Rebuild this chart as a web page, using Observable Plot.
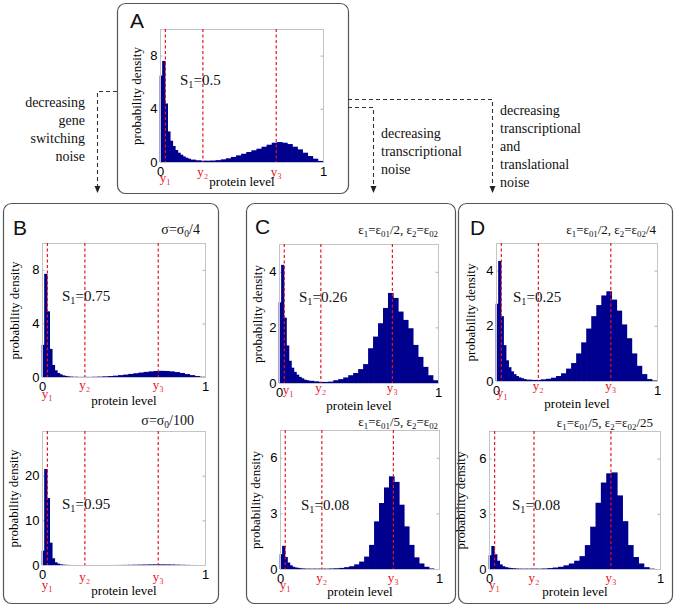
<!DOCTYPE html>
<html><head><meta charset="utf-8">
<script src="https://cdn.jsdelivr.net/npm/d3@7"></script>
<script src="https://cdn.jsdelivr.net/npm/@observablehq/plot@0.6"></script>
<style>
html,body{margin:0;padding:0;background:#fff;}
#fig{position:relative;width:675px;height:606px;overflow:hidden;background:#fff;}
#fig .panel{position:absolute;}
#fig svg.overlay{position:absolute;left:0;top:0;pointer-events:none;}
</style></head><body><div id="fig"></div>
<script>
// ---- data ----
const binEdges = [0, 0.015625, 0.03125, 0.046875, 0.0625, 0.078125, 0.09375, 0.109375, 0.125, 0.140625, 0.15625, 0.171875, 0.1875,
  0.21875, 0.25, 0.28125, 0.3125, 0.34375, 0.375, 0.40625, 0.4375, 0.46875, 0.5, 0.53125, 0.5625, 0.59375, 0.625, 0.65625,
  0.6875, 0.71875, 0.75, 0.78125, 0.8125, 0.84375, 0.875, 0.90625, 0.9375, 0.96875, 1];
const histA  = [6.5, 7.6, 4.4, 2.3, 1.6, 1.2, 0.9, 0.7, 0.55, 0.42, 0.32, 0.25, 0.18, 0.13, 0.1, 0.1, 0.11, 0.14,
  0.2, 0.28, 0.38, 0.5, 0.62, 0.75, 0.88, 1.0, 1.15, 1.3, 1.45, 1.5, 1.45, 1.35, 1.15, 0.95, 0.7, 0.45, 0.25, 0.08];
const histB1 = [2.4, 7.7, 4.9, 2.1, 0.9, 0.5, 0.3, 0.2, 0.12, 0.08, 0.05, 0.03, 0.02, 0.01, 0.01, 0.01, 0.02, 0.03,
  0.05, 0.07, 0.1, 0.14, 0.18, 0.23, 0.28, 0.33, 0.38, 0.42, 0.45, 0.46, 0.45, 0.42, 0.37, 0.3, 0.22, 0.14, 0.07, 0.02];
const histB2 = [3.2, 21.5, 15, 5, 1.5, 0.6, 0.3, 0.15, 0.08, 0.04, 0.02, 0.01, 0, 0, 0, 0, 0, 0,
  0, 0, 0.01, 0.02, 0.03, 0.05, 0.07, 0.09, 0.11, 0.13, 0.14, 0.14, 0.13, 0.11, 0.08, 0.05, 0.03, 0.01, 0, 0];
const histC1 = [2.9, 4.25, 2.35, 1.35, 0.8, 0.55, 0.4, 0.3, 0.22, 0.17, 0.12, 0.1, 0.08, 0.06, 0.04, 0.04, 0.05, 0.1,
  0.14, 0.2, 0.28, 0.36, 0.5, 0.68, 1.25, 1.67, 2.15, 2.7, 3.24, 3.06, 2.57, 2.27, 1.97, 1.37, 0.94, 0.58, 0.28, 0.1];
const histC2 = [0.8, 1.25, 0.65, 0.35, 0.2, 0.12, 0.08, 0.06, 0.04, 0.03, 0.02, 0.02, 0.02, 0.02, 0.02, 0.02, 0.03, 0.04,
  0.06, 0.1, 0.15, 0.25, 0.4, 0.67, 1.3, 2.57, 3.56, 4.4, 5.0, 4.7, 3.47, 2.3, 1.3, 0.63, 0.3, 0.12, 0.03, 0.0];
const histD1 = [2.8, 4.35, 2.35, 1.3, 0.75, 0.5, 0.35, 0.25, 0.18, 0.13, 0.1, 0.07, 0.05, 0.04, 0.04, 0.06, 0.08, 0.12,
  0.18, 0.28, 0.45, 0.65, 1.0, 1.4, 1.9, 2.35, 2.75, 3.1, 3.25, 2.95, 2.55, 2.05, 1.55, 1.0, 0.55, 0.25, 0.07, 0.02];
const histD2 = [0.75, 1.25, 0.8, 0.45, 0.25, 0.15, 0.1, 0.07, 0.05, 0.04, 0.03, 0.02, 0.02, 0.02, 0.02, 0.02, 0.03, 0.05,
  0.08, 0.12, 0.2, 0.3, 0.45, 0.7, 1.3, 2.3, 3.6, 4.7, 5.2, 5.25, 4.0, 2.6, 1.3, 0.65, 0.3, 0.1, 0.02, 0.0];
const markerPositions = [0.03, 0.26, 0.71];
const markerLabels = ["y\u2081", "y\u2082", "y\u2083"];
const xTicks = [0, 1];
const yTicks8 = [0, 4, 8];
const yTicks20 = [0, 10, 20];
const yTicks4 = [0, 2, 4];
const yTicks6 = [0, 3, 6];
const xLabel = "protein level";
const yLabel = "probability density";

// ---- layout ----
const panels = [
  {hist: histA,  left:160, right:323, top:29,  bottom:162, ymax:10,  yticks:yTicks8,  xl:23, ylDx:24, b1:19, b2:13, d1:0},
  {hist: histB1, left:42,  right:205, top:243, bottom:377, ymax:10,  yticks:yTicks8,  xl:27, ylDx:28, b1:20, b2:11, d1:0},
  {hist: histB2, left:42,  right:205, top:431, bottom:565, ymax:30,  yticks:yTicks20, xl:29, ylDx:29, b1:23, b2:15, d1:0},
  {hist: histC1, left:279, right:438, top:244, bottom:383, ymax:5,   yticks:yTicks4,  xl:26, ylDx:22, b1:10, b2:8,  d1:4},
  {hist: histC2, left:280, right:439, top:430, bottom:569, ymax:7.5, yticks:yTicks6,  xl:26, ylDx:25, b1:19, b2:12, d1:0},
  {hist: histD1, left:496, right:657, top:243, bottom:381, ymax:5,   yticks:yTicks4,  xl:26, ylDx:26, b1:15, b2:8,  d1:1},
  {hist: histD2, left:489, right:660, top:431, bottom:569, ymax:7.5, yticks:yTicks6,  xl:26, ylDx:29, b1:19, b2:12, d1:0}
];
const fig = document.getElementById("fig");
const serif = "'Liberation Serif', 'Times New Roman', serif";
const sans = "'Liberation Sans', Arial, sans-serif";
const mL = 45, mR = 12, mT = 10, mB = 45;
const fmt = d => String(d);

panels.forEach(p => {
  const bins = p.hist.map((h, i) => ({x1: binEdges[i], x2: binEdges[i + 1], h}));
  const w = p.right - p.left, h = p.bottom - p.top;
  const chart = Plot.plot({
    width: w + mL + mR, height: h + mT + mB,
    marginLeft: mL, marginRight: mR, marginTop: mT, marginBottom: mB,
    x: {domain: [0, 1]}, y: {domain: [0, p.ymax]},
    style: {fontSize: "13px", background: "transparent", overflow: "visible", color: "#000"},
    marks: [
      Plot.ruleY(p.yticks.slice(1), {x1: 0, x2: 0.015, stroke: "#b0b0b0"}),
      Plot.ruleY(p.yticks.slice(1), {x1: 0.985, x2: 1, stroke: "#b0b0b0"}),
      Plot.rect(bins, {x1: "x1", x2: "x2", y1: 0, y2: "h", fill: "#00008F", insetLeft: -0.35, insetRight: -0.35}),
      Plot.frame({stroke: "#c4c4c4"}),
      Plot.ruleX(markerPositions, {stroke: "#e8141c", strokeWidth: 1.2, strokeDasharray: "3,2.5"}),
      Plot.axisX({ticks: xTicks, tickFormat: fmt, tickSize: 0, tickPadding: 4, label: null}),
      Plot.axisY({ticks: p.yticks, tickFormat: fmt, tickSize: 0, tickPadding: 3, label: null}),
      Plot.text([0], {x: i => markerPositions[i], text: i => markerLabels[i], frameAnchor: "bottom", lineAnchor: "bottom",
        textAnchor: "middle", dx: p.d1, dy: p.b1, fill: "#e8141c", fontSize: 13}),
      Plot.text([1, 2], {x: i => markerPositions[i], text: i => markerLabels[i], frameAnchor: "bottom", lineAnchor: "bottom",
        textAnchor: "middle", dy: p.b2, fill: "#e8141c", fontSize: 13}),
      Plot.text([xLabel], {frameAnchor: "bottom", lineAnchor: "bottom", textAnchor: "middle", dy: p.xl, fontSize: 13}),
      Plot.text([yLabel], {frameAnchor: "left", textAnchor: "middle", rotate: -90, dx: -p.ylDx, fontSize: 13})
    ]
  });
  // numeric tick labels in a sans face, every other text in a serif face (as in the reference)
  chart.querySelectorAll("text").forEach(t => {
    const isNum = /^[0-9.]+$/.test(t.textContent.trim());
    t.style.fontFamily = isNum ? sans : serif;
    t.style.fontWeight = "normal";
  });
  chart.classList.add("panel");
  chart.style.left = (p.left - mL) + "px";
  chart.style.top = (p.top - mT) + "px";
  fig.appendChild(chart);
});

// ---- overlay: boxes, arrows, annotations ----
const svg = d3.select(fig).append("svg").attr("class", "overlay").attr("width", 675).attr("height", 606);
const boxes = [[117, 3, 348, 193], [3, 203, 218, 603], [246, 203, 455, 603], [458, 203, 672, 603]];
boxes.forEach(([x1, y1, x2, y2]) => svg.append("rect").attr("x", x1 + 0.5).attr("y", y1 + 0.5)
  .attr("width", x2 - x1).attr("height", y2 - y1).attr("rx", 8)
  .attr("fill", "none").attr("stroke", "#555").attr("stroke-width", 1.2));

const arrows = [[117, 91, 97], [348, 107, 373], [348, 99, 492]];
arrows.forEach(([xs, ys, xe]) => {
  svg.append("path").attr("d", `M${xs},${ys + 0.5}H${xe + 0.5}V187`).attr("fill", "none")
    .attr("stroke", "#333").attr("stroke-width", 1.1).attr("stroke-dasharray", "4,3");
  svg.append("path").attr("d", `M${xe - 2.5},186L${xe + 3.5},186L${xe + 0.5},193Z`).attr("fill", "#222");
});

function rich(x, y, parts, {size = 14, anchor = "start", fill = "#111", family = serif} = {}) {
  const t = svg.append("text").attr("x", x).attr("y", y).attr("text-anchor", anchor)
    .style("font-family", family).attr("font-size", size).attr("fill", fill);
  let cur = 0;
  parts.forEach(p => {
    const isSub = Array.isArray(p);
    const target = isSub ? Math.round(size * 0.2) : 0;
    t.append("tspan").attr("dy", target - cur).attr("font-size", isSub ? size * 0.68 : size).text(isSub ? p[0] : p);
    cur = target;
  });
}
function lines(x, baselines, texts, anchor) {
  texts.forEach((s, i) => rich(x, baselines[i], [s], {size: 14, anchor}));
}
lines(85, [107, 125, 143, 161], ["decreasing", "gene", "switching", "noise"], "end");
lines(381, [138, 156, 174], ["decreasing", "transcriptional", "noise"], "start");
lines(500, [115, 133, 151, 169, 187], ["decreasing", "transcriptional", "and", "translational", "noise"], "start");

// panel letters
[["A", 130, 28], ["B", 13, 235], ["C", 255, 234], ["D", 470, 235]].forEach(([s, x, y]) =>
  rich(x, y, [s], {size: 21, family: sans, fill: "#111"}));

// S1 labels
[[180, 85, "0.5"], [62, 301, "0.75"], [62, 509, "0.95"], [299, 302, "0.26"], [301, 510, "0.08"], [513, 302, "0.25"], [512, 510, "0.08"]]
  .forEach(([x, y, v]) => rich(x, y, ["S", ["1"], "=" + v], {size: 15}));

// noise-setting annotations
rich(200, 234, ["\u03c3=\u03c3", ["0"], "/4"], {size: 14, anchor: "end"});
rich(194, 425, ["\u03c3=\u03c3", ["0"], "/100"], {size: 14, anchor: "end"});
rich(438, 234, ["\u03b5", ["1"], "=\u03b5", ["01"], "/2, \u03b5", ["2"], "=\u03b5", ["02"]], {size: 13, anchor: "end"});
rich(438, 426, ["\u03b5", ["1"], "=\u03b5", ["01"], "/5, \u03b5", ["2"], "=\u03b5", ["02"]], {size: 13, anchor: "end"});
rich(656, 234, ["\u03b5", ["1"], "=\u03b5", ["01"], "/2, \u03b5", ["2"], "=\u03b5", ["02"], "/4"], {size: 13, anchor: "end"});
rich(653, 427, ["\u03b5", ["1"], "=\u03b5", ["01"], "/5, \u03b5", ["2"], "=\u03b5", ["02"], "/25"], {size: 13, anchor: "end"});
</script></body></html>
